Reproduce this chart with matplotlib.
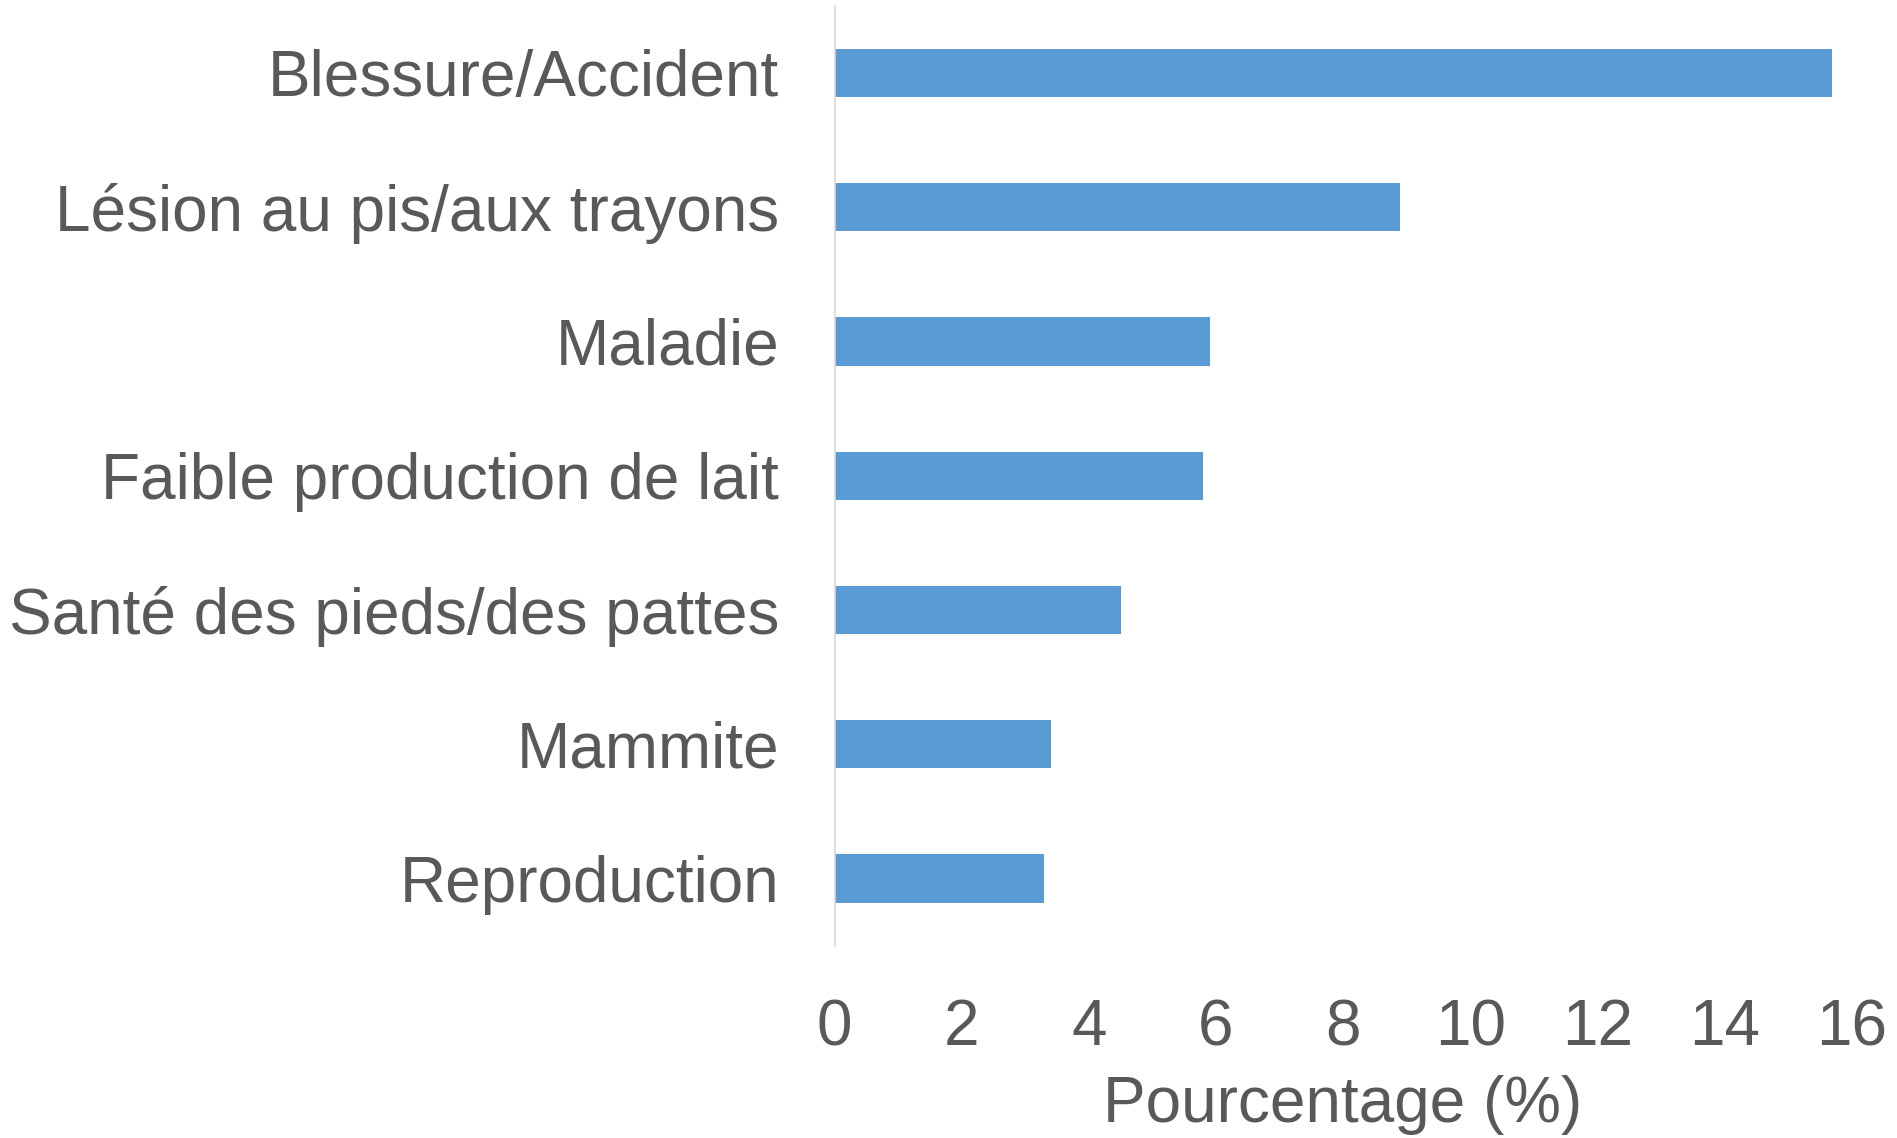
import matplotlib.pyplot as plt

categories = ['Blessure/Accident', 'Lésion au pis/aux trayons', 'Maladie',
              'Faible production de lait', 'Santé des pieds/des pattes',
              'Mammite', 'Reproduction']
values = [15.7, 8.9, 5.9, 5.8, 4.5, 3.4, 3.3]
xticks = [0, 2, 4, 6, 8, 10, 12, 14, 16]

plt.rcParams['font.family'] = ['Liberation Sans', 'DejaVu Sans']
grey = '#595959'

fig = plt.figure(figsize=(18.97, 11.38), dpi=100)
ax = fig.add_axes([0.440, 0.169, 0.536, 0.826])

pos = list(range(len(categories)))[::-1]
ax.barh(pos, values, height=0.36, color='#5b9bd5')

ax.set_xlim(0, 16)
ax.set_ylim(-0.5, len(categories) - 0.5)
ax.set_xticks(xticks)
ax.set_xticklabels([str(t) for t in xticks], fontsize=46, color=grey)
ax.set_yticks(pos)
ax.set_yticklabels(categories, fontsize=46, color=grey)
ax.tick_params(axis='both', length=0)
ax.tick_params(axis='x', pad=38)
ax.tick_params(axis='y', pad=40)

for s in ['top', 'right', 'bottom']:
    ax.spines[s].set_visible(False)
ax.spines['left'].set_color('#d9d9d9')
ax.spines['left'].set_linewidth(1.2)

ax.set_xlabel('Pourcentage (%)', fontsize=46, color=grey, labelpad=12)

fig.savefig('out.png', dpi=100)
